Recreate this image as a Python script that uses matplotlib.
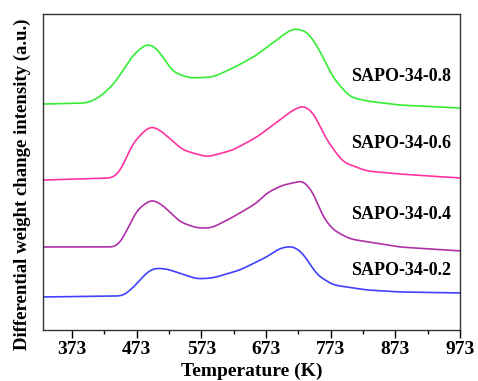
import matplotlib.pyplot as plt
import numpy as np

# temperature (K) and offset intensity (a.u.)
t_08 = [328, 396, 416, 439, 467, 489, 504, 529, 555, 591, 622, 659, 674, 690, 705, 718, 738, 756, 777, 803, 829, 880, 973]
y_08 = [226, 227, 233, 247, 275, 287, 282, 258, 252, 253, 262, 275, 283, 290, 298, 302, 298, 280, 252, 233, 229, 225, 222]

t_06 = [328, 436, 447, 467, 489, 498, 513, 544, 582, 622, 659, 690, 710, 730, 746, 767, 792, 829, 880, 973]
y_06 = [150, 152, 158, 187, 202, 204, 198, 180, 173, 180, 193, 208, 218, 225, 218, 190, 168, 159, 156, 152]

t_04 = [328, 442, 452, 473, 496, 513, 540, 566, 589, 622, 659, 674, 699, 715, 730, 746, 761, 777, 803, 880, 973]
y_04 = [83, 83, 92, 120, 131, 125, 108, 102, 102, 113, 127, 137, 145, 147, 150, 138, 113, 100, 91, 83, 79]

t_02 = [328, 452, 467, 489, 501, 520, 566, 591, 633, 674, 695, 715, 730, 752, 777, 829, 880, 973]
y_02 = [33, 34, 42, 58, 62, 61, 51, 52, 60, 73, 82, 84, 77, 55, 45, 40, 38, 37]

labels = ["SAPO-34-0.8", "SAPO-34-0.6", "SAPO-34-0.4", "SAPO-34-0.2"]
label_y = [254, 187, 116, 59]
colors = ["#33ee33", "#ff33a0", "#b030a8", "#4040ff"]


def smooth_curve(t, y, sigma=6.0):
    # linear trace through the read points, then a light gaussian blur to round corners
    tt = np.arange(t[0], t[-1] + 0.5, 1.0)
    yy = np.interp(tt, t, y)
    n = int(4 * sigma)
    k = np.exp(-0.5 * (np.arange(-n, n + 1) / sigma) ** 2)
    k /= k.sum()
    padded = np.concatenate([np.full(n, yy[0]), yy, np.full(n, yy[-1])])
    return tt, np.convolve(padded, k, mode='valid')


plt.rcParams['font.family'] = ['Liberation Serif', 'DejaVu Serif']
plt.rcParams['font.weight'] = 'bold'

fig = plt.figure(figsize=(4.78, 3.81), dpi=100)
ax = fig.add_axes([0.09, 0.134, 0.872, 0.829])

series = [(t_08, y_08), (t_06, y_06), (t_04, y_04), (t_02, y_02)]
for (t, y), c, lab, ly in zip(series, colors, labels, label_y):
    tt, ys = smooth_curve(t, y)
    ax.plot(tt, ys, color=c, linewidth=1.2)
    ax.text(804, ly, lab, fontsize=13, fontweight='bold', va='center', ha='left')

ax.set_xlim(328, 973)
ax.set_ylim(0, 316)
ax.set_xticks(np.arange(373, 974, 100))
ax.set_xticks(np.arange(423, 974, 100), minor=True)
ax.set_yticks([])
ax.tick_params(axis='x', which='major', direction='out', length=6, width=1, labelsize=14, pad=2)
ax.tick_params(axis='x', which='minor', direction='out', length=3, width=1)
for lbl in ax.get_xticklabels():
    lbl.set_fontweight('bold')
for s in ax.spines.values():
    s.set_color('#333333')
    s.set_linewidth(1.0)

ax.set_xlabel("Temperature (K)", fontsize=14, fontweight='bold', labelpad=3)
ax.set_ylabel("Differential weight change intensity (a.u.)", fontsize=13.5, fontweight='bold')
ax.yaxis.set_label_coords(-0.03, 0.46)

fig.savefig("out.png", dpi=100)
